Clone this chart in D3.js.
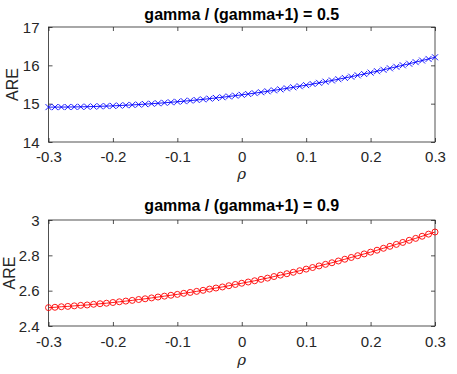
<!DOCTYPE html>
<html><head><meta charset="utf-8">
<script src="https://cdn.jsdelivr.net/npm/d3@7"></script>
<style>
html,body{margin:0;padding:0;background:#fff;}
text{font-family:"Liberation Sans",Arial,Helvetica,sans-serif;fill:#262626;}
</style></head>
<body>
<svg id="chart" width="457" height="374"></svg>
<script>
const rho = [-0.30,-0.29,-0.28,-0.27,-0.26,-0.25,-0.24,-0.23,-0.22,-0.21,-0.20,-0.19,-0.18,-0.17,-0.16,-0.15,-0.14,-0.13,-0.12,-0.11,-0.10,-0.09,-0.08,-0.07,-0.06,-0.05,-0.04,-0.03,-0.02,-0.01,0.00,0.01,0.02,0.03,0.04,0.05,0.06,0.07,0.08,0.09,0.10,0.11,0.12,0.13,0.14,0.15,0.16,0.17,0.18,0.19,0.20,0.21,0.22,0.23,0.24,0.25,0.26,0.27,0.28,0.29,0.30];
const areHalf = [14.910,14.910,14.911,14.912,14.915,14.918,14.921,14.926,14.931,14.937,14.943,14.951,14.959,14.968,14.977,14.988,14.999,15.010,15.023,15.036,15.050,15.065,15.080,15.096,15.113,15.131,15.149,15.168,15.188,15.209,15.230,15.252,15.275,15.298,15.323,15.348,15.373,15.400,15.427,15.455,15.483,15.513,15.543,15.574,15.605,15.638,15.671,15.704,15.739,15.774,15.810,15.847,15.884,15.923,15.962,16.001,16.042,16.083,16.125,16.167,16.210];
const areNine = [2.504,2.506,2.509,2.511,2.514,2.517,2.519,2.523,2.526,2.529,2.533,2.537,2.541,2.545,2.550,2.554,2.559,2.564,2.569,2.574,2.579,2.585,2.590,2.596,2.602,2.609,2.615,2.621,2.628,2.635,2.642,2.649,2.656,2.664,2.671,2.680,2.688,2.696,2.704,2.713,2.722,2.731,2.740,2.749,2.758,2.768,2.778,2.788,2.798,2.808,2.818,2.829,2.840,2.851,2.862,2.873,2.885,2.896,2.908,2.920,2.932];
const xTicks = [-0.3,-0.2,-0.1,0,0.1,0.2,0.3];
const xTickLabels = ["-0.3","-0.2","-0.1","0","0.1","0.2","0.3"];
const yTicksTop = [14,15,16,17];
const yTicksBottom = [2.4,2.6,2.8,3];
const titles = ["gamma / (gamma+1) = 0.5","gamma / (gamma+1) = 0.9"];
const xLabel = "\u03C1";
const yLabel = "ARE";

const svg = d3.select("#chart");
const axColor = "#262626";
const L = 48.5, R = 435;

function panel(cfg){
  const x = d3.scaleLinear().domain([-0.3,0.3]).range([L,R]);
  const y = d3.scaleLinear().domain(cfg.ydom).range([cfg.bottom,cfg.top]);
  const g = svg.append("g");
  g.append("rect").attr("x",L).attr("y",cfg.top).attr("width",R-L).attr("height",cfg.bottom-cfg.top)
    .attr("fill","none").attr("stroke",axColor).attr("stroke-width",0.8);
  const tl = 4;
  const xb = g.append("g").attr("transform",`translate(0,${cfg.bottom})`)
    .call(d3.axisBottom(x).tickValues(xTicks).tickSizeInner(-tl).tickSizeOuter(0).tickFormat((d,i)=>xTickLabels[i]));
  const xt = g.append("g").attr("transform",`translate(0,${cfg.top})`)
    .call(d3.axisTop(x).tickValues(xTicks).tickSizeInner(-tl).tickSizeOuter(0).tickFormat(""));
  const yl = g.append("g").attr("transform",`translate(${L},0)`)
    .call(d3.axisLeft(y).tickValues(cfg.yticks).tickSizeInner(-tl).tickSizeOuter(0).tickPadding(9).tickFormat(d=>String(+d.toFixed(1))));
  const yr = g.append("g").attr("transform",`translate(${R},0)`)
    .call(d3.axisRight(y).tickValues(cfg.yticks).tickSizeInner(-tl).tickSizeOuter(0).tickFormat(""));
  [xb,xt,yl,yr].forEach(a=>{
    a.select(".domain").remove();
    a.selectAll(".tick line").attr("stroke",axColor).attr("stroke-width",0.8);
    a.selectAll(".tick text").attr("fill",axColor).style("font-size","15px").style("font-family",'"Liberation Sans",Arial,sans-serif');
  });
  xb.selectAll(".tick text").attr("dy",null).attr("y",cfg.tickBase-cfg.bottom);
  yl.selectAll(".tick text").attr("dy","0.35em");
  g.append("text").attr("x",(L+R)/2).attr("y",cfg.titleBase).attr("text-anchor","middle")
    .style("font-size","16px").style("font-weight","bold").style("fill","#000").text(cfg.title);
  g.append("text").attr("x",(L+R)/2).attr("y",cfg.xlabBase).attr("text-anchor","middle")
    .style("font-size","15px").style("font-style","italic").style("font-family",'"DejaVu Serif","Liberation Serif",serif').text(xLabel);
  g.append("text").attr("transform",`translate(${cfg.ylabX},${(cfg.top+cfg.bottom)/2}) rotate(-90)`)
    .attr("text-anchor","middle").style("font-size","16px").text(yLabel);
  const pts = rho.map((r,i)=>[r,cfg.vals[i]]);
  const line = d3.line().x(d=>x(d[0])).y(d=>y(d[1]));
  const pg = g.append("g");
  pg.append("path").datum(pts).attr("d",line).attr("fill","none").attr("stroke",cfg.color).attr("stroke-width",0.9);
  if(cfg.marker==="x"){
    const s=3;
    pg.selectAll("path.mk").data(pts).enter().append("path").attr("class","mk")
      .attr("d",d=>{const cx=x(d[0]),cy=y(d[1]);return `M${cx-s},${cy-s}L${cx+s},${cy+s}M${cx-s},${cy+s}L${cx+s},${cy-s}`;})
      .attr("stroke",cfg.color).attr("stroke-width",0.9).attr("fill","none");
  } else {
    pg.selectAll("circle").data(pts).enter().append("circle")
      .attr("cx",d=>x(d[0])).attr("cy",d=>y(d[1])).attr("r",3)
      .attr("stroke",cfg.color).attr("stroke-width",0.9).attr("fill","none");
  }
}

panel({id:1,top:27,bottom:142,ydom:[14,17],yticks:yTicksTop,vals:areHalf,color:"#0000ff",marker:"x",
  title:titles[0],titleBase:20,tickBase:162,xlabBase:179,ylabX:18});
panel({id:2,top:220,bottom:326,ydom:[2.4,3],yticks:yTicksBottom,vals:areNine,color:"#ff0000",marker:"o",
  title:titles[1],titleBase:211,tickBase:347,xlabBase:365,ylabX:15});
</script>
</body></html>
